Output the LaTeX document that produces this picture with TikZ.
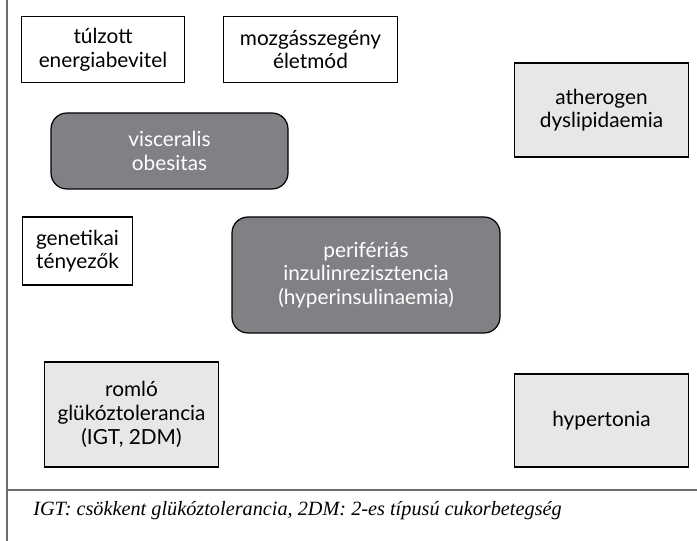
\documentclass[tikz,border=0pt]{standalone}
\usepackage{fontspec}
\setmainfont{Lato}
\newfontfamily\capfont{Liberation Serif}
\definecolor{darkbox}{RGB}{128,129,132}
\definecolor{lightbox}{RGB}{230,231,233}
\definecolor{frameline}{RGB}{110,110,110}

\begin{document}
\begin{tikzpicture}[x=0.75pt,y=-0.75pt,
	txt/.style={align=center,font=\fontsize{15.6}{17.8}\selectfont,inner sep=0pt},
	plain/.style={txt,draw=black,line width=0.9pt,fill=white},
	grey/.style={txt,draw=black,line width=0.9pt,fill=lightbox},
	dark/.style={txt,draw=black,line width=0.9pt,fill=darkbox,text=white,rounded corners=12pt}]
	\useasboundingbox (0,0) rectangle (697,541);
	\draw[frameline,line width=1pt] (7,0) -- (7,541) (7,490) -- (697,490);
	\node[plain,minimum width=122pt,minimum height=50pt] (tulzott) at (103,49.5) {túlzott\\energiabevitel};
	\node[plain,minimum width=130pt,minimum height=50pt] (mozgas) at (310.5,49.5) {mozgásszegény\\életmód};
	\node[grey,minimum width=130pt,minimum height=70.5pt] (athero) at (601.5,110) {atherogen\\dyslipidaemia};
	\node[dark,minimum width=177.75pt,minimum height=57pt] (obes) at (169.5,151) {visceralis\\obesitas};
	\node[plain,minimum width=83pt,minimum height=51pt] (genet) at (77.5,251) {genetikai\\tényezők};
	\node[dark,minimum width=201pt,minimum height=87pt] (inzulin) at (366,275) {perifériás\\inzulinrezisztencia\\(hyperinsulinaemia)};
	\node[grey,minimum width=130pt,minimum height=78.75pt] (gluko) at (131.5,414.5) {romló\\glükóztolerancia\\(IGT, 2DM)};
	\node[grey,minimum width=130pt,minimum height=69.75pt] (hyper) at (601.5,420.5) {hypertonia};
	\node[anchor=west,inner sep=0pt,font=\capfont\itshape\fontsize{15.2}{17}\selectfont] (caption) at (33,511) {IGT: csökkent glükóztolerancia, 2DM: 2-es típusú cukorbetegség};
\end{tikzpicture}
\end{document}
